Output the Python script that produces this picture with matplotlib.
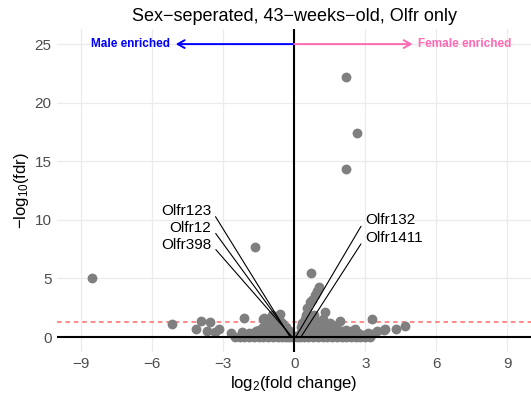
import numpy as np
import matplotlib
matplotlib.use('Agg')
import matplotlib.pyplot as plt

plt.rcParams['font.family'] = ['Liberation Sans', 'DejaVu Sans']
plt.rcParams['mathtext.fontset'] = 'custom'
plt.rcParams['mathtext.rm'] = 'Liberation Sans'
plt.rcParams['mathtext.it'] = 'Liberation Sans:italic'

# ---- data ----
# isolated / clearly visible genes
outlier_lfc = [-8.52, -5.14, -4.14, -3.94, -3.69, -3.55, -3.34, -3.16, -2.66, -2.21,
               -2.10, -1.79, -1.72, -1.65, -1.27, 0.70, 1.06, 0.96, 0.86, 0.75,
               0.68, 0.54, 1.31, 1.94, 2.58, 3.28, 3.49, 3.80, 3.84, 4.30,
               4.70, 2.18, 2.65, 2.18]
outlier_fdr = [5.06, 1.08, 0.66, 1.39, 0.51, 1.28, 0.45, 0.68, 0.31, 0.45,
               1.60, 0.26, 0.31, 7.70, 1.60, 5.43, 4.30, 3.90, 3.60, 3.20,
               3.00, 2.45, 2.10, 1.39, 0.68, 1.54, 0.56, 0.60, 0.66, 0.71,
               0.91, 22.2, 17.4, 14.3]

# dense cloud around the origin
cloud_lfc = [-2.5, -2.3, -2.1, -1.9, -1.7, -1.5, -1.3, -1.1, -0.9, -0.7, -0.5, -0.35, -0.2, -0.1,
             -2.0, -1.6, -1.2, -0.8, -0.4, -0.15,
             -2.2, -1.8, -1.4, -1.0, -0.6, -0.3,
             -1.9, -1.4, -1.0, -0.6, -0.3,
             -1.6, -1.2, -0.85, -0.5, -0.2,
             -1.5, -1.1, -0.7, -0.45, -0.25,
             -1.3, -0.95, -0.6, -0.35,
             -1.15, -0.8, -0.5,
             -1.3, -0.9, -0.65, -0.59, -0.94, -0.75,
             0.1, 0.25, 0.4, 0.6, 0.8, 1.0, 1.2, 1.4, 1.6, 1.8, 2.0, 2.2, 2.4, 2.6, 2.8, 3.0, 3.2,
             0.2, 0.5, 0.9, 1.3, 1.7, 2.1, 2.5, 2.9,
             0.35, 0.75, 1.15, 1.55, 1.95, 2.35, 2.75, 3.3,
             0.3, 0.7, 1.1, 1.5, 1.9, 2.3, 2.7, 3.1,
             0.5, 0.85, 1.2, 1.6, 2.0, 2.4,
             0.35, 0.65, 1.0, 1.4, 1.8, 2.2,
             0.3, 0.6, 1.0, 1.4, 1.75,
             0.45, 0.8, 1.2, 1.6,
             0.35, 0.7, 1.1, 1.5,
             0.45, 0.85, 1.2,
             0.5, 0.85]
cloud_fdr = [0.02, 0.02, 0.02, 0.02, 0.02, 0.02, 0.02, 0.02, 0.02, 0.02, 0.02, 0.02, 0.02, 0.02,
             0.15, 0.15, 0.15, 0.15, 0.15, 0.15,
             0.25, 0.25, 0.25, 0.25, 0.25, 0.25,
             0.35, 0.35, 0.35, 0.35, 0.35,
             0.48, 0.48, 0.48, 0.48, 0.48,
             0.60, 0.60, 0.60, 0.60, 0.60,
             0.90, 0.90, 0.90, 0.90,
             1.20, 1.20, 1.20,
             1.50, 1.50, 1.50, 2.00, 1.88, 1.70,
             0.02, 0.02, 0.02, 0.02, 0.02, 0.02, 0.02, 0.02, 0.02, 0.02, 0.02, 0.02, 0.02, 0.02, 0.02, 0.02, 0.02,
             0.15, 0.15, 0.15, 0.15, 0.15, 0.15, 0.15, 0.15,
             0.25, 0.25, 0.25, 0.25, 0.25, 0.25, 0.25, 0.25,
             0.35, 0.35, 0.35, 0.35, 0.35, 0.35, 0.35, 0.35,
             0.48, 0.48, 0.48, 0.48, 0.48, 0.48,
             0.60, 0.60, 0.60, 0.60, 0.60, 0.60,
             0.90, 0.90, 0.90, 0.90, 0.90,
             1.05, 1.05, 1.05, 1.05,
             1.20, 1.20, 1.20, 1.20,
             1.50, 1.50, 1.50,
             1.90, 1.90]

# labelled genes: name, gene position, label position
label_names = ['Olfr123', 'Olfr12', 'Olfr398', 'Olfr132', 'Olfr1411']
label_lfc = [-0.20, -0.15, -0.10, 0.08, 0.30]
label_fdr = [0.10, 0.08, 0.05, 0.05, 0.05]
label_text_x = [-3.5, -3.5, -3.5, 3.0, 3.0]
label_text_y = [10.8, 9.3, 7.85, 10.0, 8.45]

fdr_cutoff = 0.05
x_ticks = [-9, -6, -3, 0, 3, 6, 9]
y_ticks = [0, 5, 10, 15, 20, 25]

# ---- plot ----
fig = plt.figure(figsize=(5.31, 3.98), dpi=100)
ax = fig.add_axes([0.1079, 0.1163, 0.8921, 0.8097])

ax.set_xlim(-10, 10)
ax.set_ylim(-1.25, 26.25)
ax.set_xticks(x_ticks)
ax.set_yticks(y_ticks)
ax.grid(True, color='#ebebeb', linewidth=0.9)
ax.set_axisbelow(True)
for s in ax.spines.values():
    s.set_visible(False)
ax.tick_params(length=0, labelsize=11, labelcolor='#4d4d4d', pad=4)

# significance threshold and origin lines
ax.axhline(-np.log10(fdr_cutoff), color='#ff6a6a', linestyle=(0, (3, 2.5)), linewidth=1.1, zorder=1)

all_x = cloud_lfc + label_lfc + outlier_lfc
all_y = cloud_fdr + label_fdr + outlier_fdr
ax.scatter(all_x, all_y, s=50, color='#7f7f7f', linewidths=0, zorder=2)

ax.axhline(0, color='black', linewidth=1.5, zorder=3)
ax.axvline(0, color='black', linewidth=1.5, zorder=3)

# gene labels with leader lines starting at the text edge
for name, gx, gy, tx, ty in zip(label_names, label_lfc, label_fdr, label_text_x, label_text_y):
    left = tx < 0
    ax.annotate(name, xy=(gx, gy), xytext=(tx, ty), ha='right' if left else 'left', va='center',
                fontsize=11,
                arrowprops=dict(arrowstyle='-', color='black', lw=0.8, shrinkA=2, shrinkB=0,
                                relpos=(1.0, 0.55) if left else (0.0, 0.55)),
                zorder=4)

# direction arrows
ax.annotate('', xy=(-5.0, 25), xytext=(0, 25),
            arrowprops=dict(arrowstyle='->,head_length=0.5,head_width=0.28', color='blue', lw=1.4,
                            shrinkA=0, shrinkB=0))
ax.annotate('', xy=(5.0, 25), xytext=(0, 25),
            arrowprops=dict(arrowstyle='->,head_length=0.5,head_width=0.28', color='#ff69b4', lw=1.4,
                            shrinkA=0, shrinkB=0))
ax.text(-5.25, 25, 'Male enriched', color='blue', fontsize=8.5, fontweight='bold', ha='right', va='center')
ax.text(5.25, 25, 'Female enriched', color='#ff69b4', fontsize=8.5, fontweight='bold', ha='left', va='center')

ax.set_title('Sex\u2212seperated, 43\u2212weeks\u2212old, Olfr only', fontsize=13, pad=6)
ax.set_xlabel('log$_2$(fold change)', fontsize=12, labelpad=2)
ax.set_ylabel('\u2212log$_{10}$(fdr)', fontsize=12, labelpad=3)

plt.savefig('out.png', dpi=100)
plt.close()
